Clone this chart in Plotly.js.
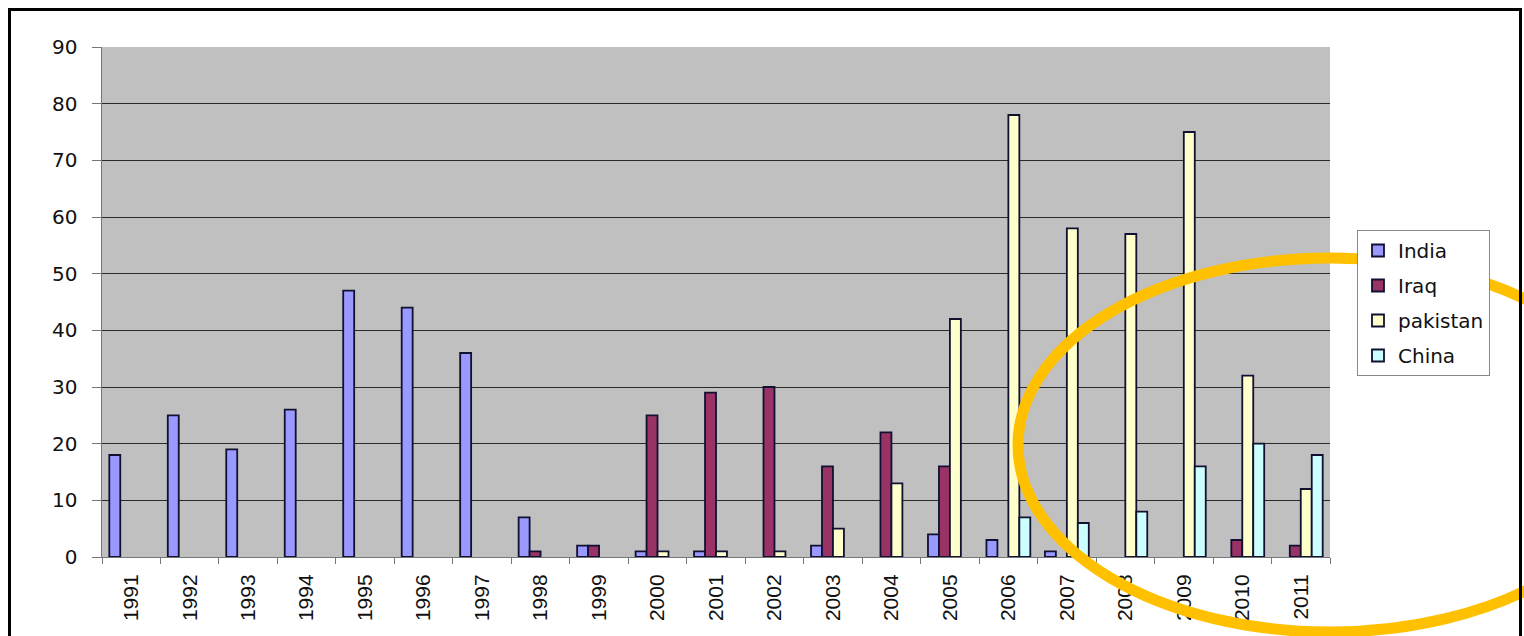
<!DOCTYPE html>
<html>
<head>
<meta charset="utf-8">
<script src="https://cdn.plot.ly/plotly-3.0.1.min.js"></script>
<style>
html,body{margin:0;padding:0;background:#fff;}
#wrap{position:relative;width:1524px;height:636px;overflow:hidden;}
#chart{position:absolute;left:0;top:0;width:1524px;height:636px;}
#frame{position:absolute;left:8px;top:8px;width:1514px;height:640px;border:3px solid #000;box-sizing:border-box;pointer-events:none;}
</style>
</head>
<body>
<div id="wrap"><div id="chart"></div><div id="frame"></div></div>
<script>
const years = ['1991','1992','1993','1994','1995','1996','1997','1998','1999','2000','2001','2002','2003','2004','2005','2006','2007','2008','2009','2010','2011'];
// null = no bar drawn for that year
const india    = [18,25,19,26,47,44,36,7,2,1,1,null,2,null,4,3,1,null,null,null,null];
const iraq     = [null,null,null,null,null,null,null,1,2,25,29,30,16,22,16,null,null,null,null,3,2];
const pakistan = [null,null,null,null,null,null,null,null,null,1,1,1,5,13,42,78,58,57,75,32,12];
const china    = [null,null,null,null,null,null,null,null,null,null,null,null,null,null,null,7,6,8,16,20,18];
const seriesNames = ['India','Iraq','pakistan','China'];

const L=102, R=1330, T=47, B=557;
const W=1524, H=636;
function px2x(p){return (p-L)/(R-L);}
function py2y(p){return (B-p)/(B-T);}

function mk(name, vals, color){
  return {type:'bar', name:name, x:years, y:vals, legendgroup:name,
    marker:{color:color, line:{color:'#101030', width:1.8}},
    hoverinfo:'x+y+name'};
}
const data=[
  mk(seriesNames[0], india, '#9999FF'),
  mk(seriesNames[1], iraq, '#993366'),
  mk(seriesNames[2], pakistan, '#FFFFCC'),
  mk(seriesNames[3], china, '#CCFFFF')
];
const sans='Liberation Sans, Arial, sans-serif';
const wide='DejaVu Sans, Verdana, sans-serif';
const layout={
  width:W, height:H,
  margin:{l:L, r:W-R, t:T, b:H-B, pad:0},
  paper_bgcolor:'#fff', plot_bgcolor:'#C0C0C0',
  barmode:'group', bargap:0.25, bargroupgap:0,
  font:{family:sans, color:'#000'},
  showlegend:true,
  legend:{x:px2x(1357), y:py2y(230), xanchor:'left', yanchor:'top',
    bgcolor:'#fff', bordercolor:'#888', borderwidth:1,
    traceorder:'grouped', tracegroupgap:6,
    font:{family:wide, size:20, color:'#111'}},
  xaxis:{type:'category', tickangle:-90, tickfont:{family:sans, size:21, color:'#111'},
    ticks:'outside', tickson:'boundaries', ticklen:6, tickcolor:'#777', ticklabelstandoff:8,
    showline:true, linecolor:'#777', linewidth:1, showgrid:false, zeroline:false},
  yaxis:{range:[0,90], dtick:10, tickfont:{family:wide, size:20, color:'#111'},
    ticks:'outside', ticklen:9, tickcolor:'#777', ticklabelstandoff:10,
    showline:true, linecolor:'#777', linewidth:1.5,
    showgrid:true, gridcolor:'#2a2a2a', gridwidth:1, zeroline:false},
  shapes:[
    {type:'circle', xref:'paper', yref:'paper',
     x0:px2x(1018), x1:px2x(1642), y0:py2y(632), y1:py2y(258),
     line:{color:'#FFC000', width:11}, fillcolor:'rgba(0,0,0,0)', layer:'above'}
  ]
};
Plotly.newPlot('chart', data, layout, {displayModeBar:false, staticPlot:true});
</script>
</body>
</html>
